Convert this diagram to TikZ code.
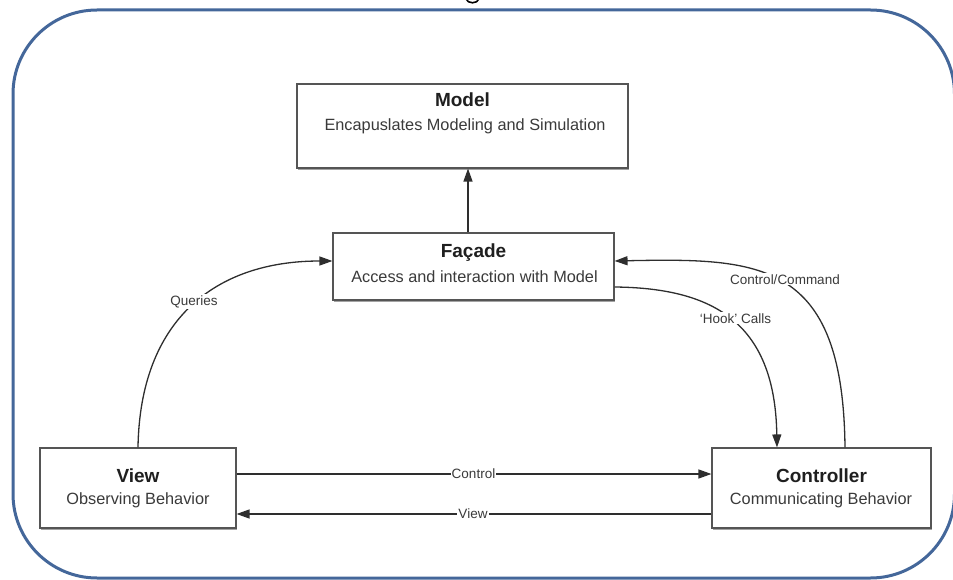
\documentclass[tikz,border=0pt]{standalone}
\usepackage{fontspec}
\setmainfont{Liberation Sans}
\usetikzlibrary{arrows.meta,shadows}

\definecolor{framebl}{HTML}{44679A}
\definecolor{linegr}{HTML}{2E2E2E}
\definecolor{boxedge}{HTML}{555555}
\definecolor{textgr}{HTML}{3A3A3A}

\begin{document}
\begin{tikzpicture}[x=1pt,y=-1pt,
  frame/.style={draw=framebl, line width=3pt, rounded corners=84pt},
  box/.style={draw=boxedge, line width=1.1pt, fill=white, inner sep=0pt,
    drop shadow={shadow xshift=1.2pt, shadow yshift=-2.2pt, fill=black!45, opacity=0.8}},
  title/.style={font=\fontsize{19}{22}\selectfont\bfseries, text=black!88, inner sep=0pt},
  sub/.style={font=\fontsize{16.3}{19}\selectfont, text=textgr, inner sep=0pt},
  lbl/.style={font=\fontsize{13.5}{16}\selectfont, text=textgr, fill=white, inner sep=1pt},
  conn/.style={draw=linegr, line width=1.3pt},
  arr/.style={conn, -{Triangle[length=13pt,width=9pt]}},
]
\useasboundingbox (0,0) rectangle (953,580);

% outer rounded frame (runs past the page edge on the right and bottom)
\begin{scope}
  \clip (0,0) rectangle (953,580);
  \draw[frame] (13,10) rectangle (954.5,578);
  % small mark cut by the top edge
  \draw[black, line width=1.6pt] (466,-1) .. controls (468,4) and (477,4) .. (479,-1);
\end{scope}

% boxes
\node[box, minimum width=331pt, minimum height=84pt] (model) at (462.5,126) {};
\node[box, minimum width=281pt, minimum height=67pt] (facade) at (473.5,266.5) {};
\node[box, minimum width=196pt, minimum height=80pt] (view) at (138,488) {};
\node[box, minimum width=219pt, minimum height=80pt] (controller) at (821.5,488) {};

% box texts
\node[title, anchor=base] (modelT) at (462.5,107) {Model};
\node[sub, anchor=base] (modelS) at (465,131) {Encapuslates Modeling and Simulation};
\node[title, anchor=base] (facadeT) at (473.5,258) {Façade};
\node[sub, anchor=base] (facadeS) at (474.5,282) {Access and interaction with Model};
\node[title, anchor=base] (viewT) at (138,482) {View};
\node[sub, anchor=base] (viewS) at (138,504) {Observing Behavior};
\node[title, anchor=base] (controllerT) at (821.5,482) {Controller};
\node[sub, anchor=base] (controllerS) at (821,504) {Communicating Behavior};

% connectors
\draw[arr] ([xshift=-5.5pt]facade.north) -- ([xshift=-5.5pt]facade.north |- model.south);
\draw[arr] (view.north) .. controls (140,320) and (215,261) .. ([yshift=5.5pt]facade.west);
\draw[arr] ([yshift=-20.5pt]facade.east) .. controls (710,288) and (775,320) .. ([xshift=-44.5pt]controller.north);
\draw[arr] ([xshift=23.5pt]controller.north) .. controls (843,260) and (760,258) .. ([yshift=5.5pt]facade.east);
\draw[arr] ([yshift=14pt]view.east) -- ([yshift=14pt]controller.west);
\draw[arr] ([yshift=-26pt]controller.west) -- ([yshift=-26pt]view.east);

% connector labels
\node[lbl, anchor=base] (lQueries) at (194,305) {Queries};
\node[lbl, anchor=base] (lHook) at (735.5,323) {‘Hook’ Calls};
\node[lbl, anchor=base] (lCmd) at (785,284) {Control/Command};
\node[lbl, anchor=base] (lControl) at (473.5,478) {Control};
\node[lbl, anchor=base] (lView) at (473,518) {View};
\end{tikzpicture}
\end{document}
